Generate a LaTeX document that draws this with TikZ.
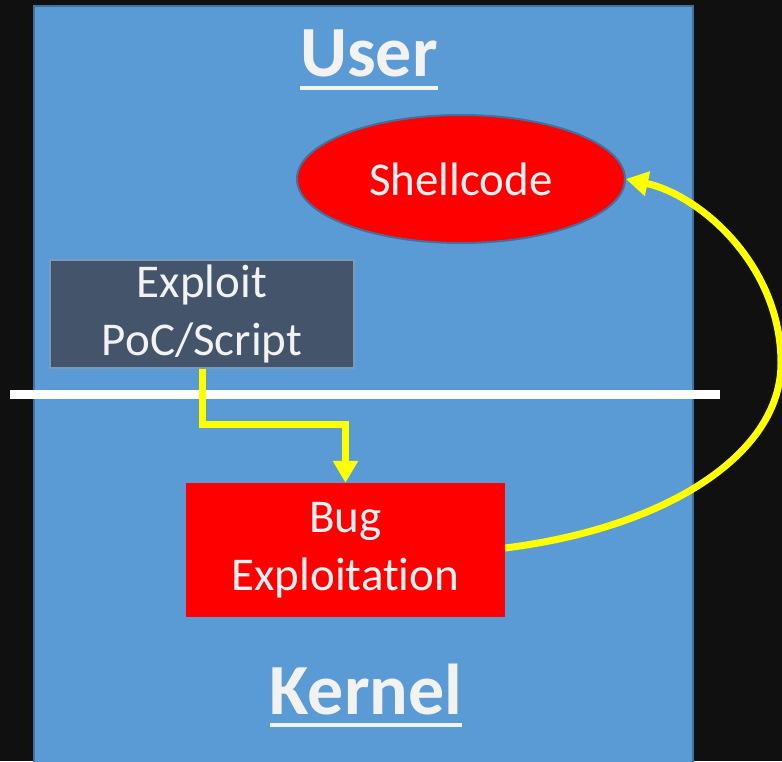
\documentclass[tikz,border=0pt]{standalone}
\usepackage{fontspec}
\setmainfont{Carlito}[Ligatures=NoCommon]
\usetikzlibrary{arrows.meta,shapes.geometric}
\definecolor{panelblue}{HTML}{5B9BD5}
\definecolor{edgeblue}{HTML}{41719C}
\definecolor{slate}{HTML}{44546A}
\definecolor{bgdark}{HTML}{101010}
\definecolor{hiyellow}{HTML}{FFFF00}
\definecolor{offwhite}{HTML}{F2F2F2}
\tikzset{
  body/.style={text=offwhite,font=\fontsize{47}{58}\selectfont,align=center,inner sep=0pt},
  title/.style={text=offwhite,font=\fontsize{72}{80}\selectfont\bfseries,inner sep=0pt,anchor=base},
  flow/.style={draw=hiyellow,line width=7pt,-{Triangle[width=24pt,length=22pt]}},
  uline/.style={draw=offwhite,line width=4pt}
}
\begin{document}
\begin{tikzpicture}[x=1pt,y=-1pt]
  \useasboundingbox (0,0) rectangle (782,761);
  \fill[bgdark] (0,0) rectangle (782,761);
  % user/kernel panel
  \fill[panelblue,draw=edgeblue,line width=2.5pt] (34,6) rectangle (693,775);
  % privilege boundary
  \fill[white] (10,390) rectangle (720,399);
  % titles
  \node[title] (user) at (369,76) {User};
  \draw[uline] ([yshift=-12pt]user.base west) -- ([yshift=-12pt]user.base east);
  \node[title] (kernel) at (366,714) {Kernel};
  \draw[uline] ([yshift=-11pt]kernel.base west) -- ([yshift=-11pt]kernel.base east);
  % components
  \node[ellipse,fill=red,draw=edgeblue,line width=2pt,minimum width=328pt,minimum height=128pt,body] (shell) at (461,179) {Shellcode};
  \node[fill=slate,draw=edgeblue!70!white,line width=1.5pt,minimum width=304pt,minimum height=108pt,body] (exploit) at (202,314) {Exploit\\PoC/Script};
  \node[fill=red,minimum width=319pt,minimum height=134pt,body] (bug) at (345.5,550) {Bug\\Exploitat\kern0pt ion};
  % flow
  \coordinate (apex) at (781,363);
  \draw[flow] (exploit.south) -- (exploit.south |- 0,424) -| (bug.north);
  \draw[flow] ([yshift=2pt]bug.east) .. controls (665,528) and (781,455) .. (apex)
    .. controls (781,265) and (700,195) .. (shell.east);
\end{tikzpicture}
\end{document}
